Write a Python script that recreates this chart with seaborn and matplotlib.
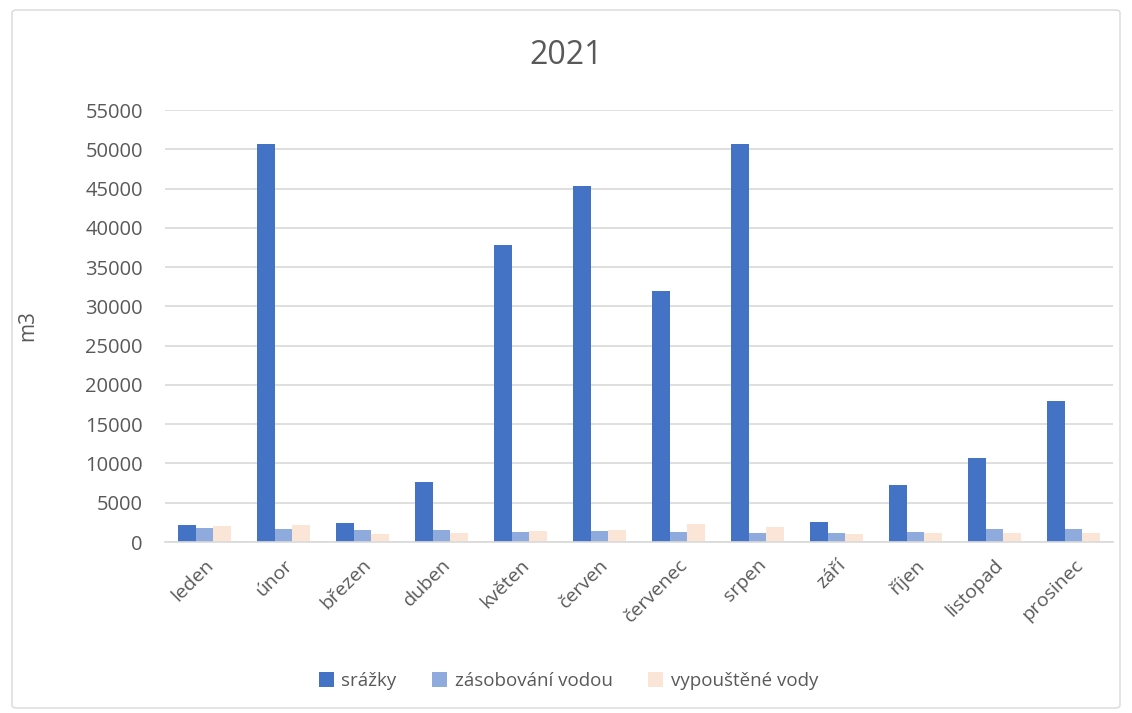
import matplotlib
matplotlib.use("Agg")
import matplotlib.pyplot as plt
from matplotlib.patches import FancyBboxPatch
import seaborn as sns
import pandas as pd

months = ["leden", "únor", "březen", "duben", "květen", "červen",
          "červenec", "srpen", "září", "říjen", "listopad", "prosinec"]
srazky = [2200, 50700, 2400, 7600, 37800, 45300, 31900, 50700, 2600, 7200, 10700, 17900]
zasobovani = [1800, 1600, 1500, 1500, 1250, 1350, 1250, 1200, 1200, 1250, 1600, 1600]
vypoustene = [2000, 2200, 1000, 1200, 1400, 1500, 2250, 1850, 1000, 1200, 1100, 1150]
series = ["srážky", "zásobování vodou", "vypouštěné vody"]
colors = ["#4472C4", "#8FAADC", "#FBE5D6"]
yticks = list(range(0, 55001, 5000))

df = pd.DataFrame({
    "měsíc": months * 3,
    "hodnota": srazky + zasobovani + vypoustene,
    "řada": [series[0]] * 12 + [series[1]] * 12 + [series[2]] * 12,
})

sns.set_theme(style="white")
plt.rcParams["font.family"] = ["Open Sans", "DejaVu Sans"]
text_color = "#595959"

fig = plt.figure(figsize=(11.32, 7.13), dpi=100)
ax = fig.add_axes([165 / 1132, 1 - 542 / 713, (1113 - 165) / 1132, (542 - 110) / 713])

sns.barplot(data=df, x="měsíc", y="hodnota", hue="řada", order=months,
            hue_order=series, palette=colors, width=0.66, saturation=1,
            edgecolor="none", ax=ax, legend=True)

ax.set_ylim(0, 55000)
ax.set_xlim(-0.5, 11.5)
ax.set_yticks(yticks)
ax.set_yticklabels([str(v) for v in yticks], fontsize=14.5, color=text_color)
ax.yaxis.grid(True, color="#D9D9D9", linewidth=1.2)
ax.set_axisbelow(True)
for s in ["top", "right", "left"]:
    ax.spines[s].set_visible(False)
ax.spines["bottom"].set_color("#D9D9D9")
ax.spines["bottom"].set_linewidth(1.2)
ax.tick_params(axis="y", length=0, pad=16)
ax.tick_params(axis="x", length=0, pad=10)
ax.set_xticks(range(len(months)))
ax.set_xticklabels(months, rotation=45, ha="right", rotation_mode="anchor",
                   fontsize=14, color=text_color)
ax.set_xlabel("")
ax.set_ylabel("m3", fontsize=15, color=text_color, labelpad=34)

fig.text(0.5, 1 - 55 / 713, "2021", ha="center", va="center",
         fontsize=23, color=text_color)

handles, labels = ax.get_legend_handles_labels()
ax.legend_.remove()
fig.legend(handles, labels, loc="center", bbox_to_anchor=(0.502, 1 - 681 / 713),
           ncol=3, frameon=False, fontsize=13.5, labelcolor=text_color,
           handlelength=0.8, handleheight=0.8, handletextpad=0.4,
           columnspacing=1.9)

border = FancyBboxPatch((12 / 1132, 5 / 713), 1108 / 1132, 698 / 713,
                        boxstyle="round,pad=0,rounding_size=0.004",
                        transform=fig.transFigure, fill=False,
                        edgecolor="#D9D9D9", linewidth=1)
fig.patches.append(border)

fig.savefig("out.png", dpi=100, facecolor="white")
